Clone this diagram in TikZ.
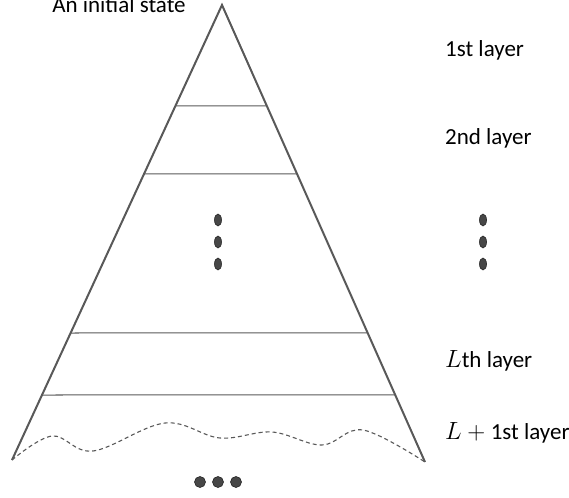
\documentclass[tikz,border=0pt]{standalone}
\usepackage{fontspec}
\setmainfont{Carlito}
\usetikzlibrary{calc,shapes.geometric}
\begin{document}
\begin{tikzpicture}[x=1pt,y=-1pt,
  side/.style={draw=black!65,line width=2pt,line join=miter},
  layerline/.style={draw=black!65,line width=1pt},
  wave/.style={draw=black!65,line width=1.1pt,dash pattern=on 4pt off 3pt},
  vdot/.style={ellipse,fill=black!72,draw=black!85,line width=0.6pt,minimum width=7pt,minimum height=12pt,inner sep=0pt},
  hdot/.style={circle,fill=black!72,draw=black!85,line width=0.6pt,minimum size=11pt,inner sep=0pt},
  lab/.style={anchor=base west,inner sep=0pt,font=\fontsize{23}{27}\selectfont},
]
\useasboundingbox (0,0) rectangle (569,497);
\coordinate (apex) at (222,5);
\coordinate (bl) at (12,460);
\coordinate (br) at (425,462);
\draw[side] (bl) -- (apex) -- (br);
% layer lines
\foreach \y [count=\i] in {106,174,333,395} {
  \coordinate (l\i) at ($(apex)!{(\y-5)/455}!(bl)$);
  \coordinate (r\i) at ($(apex)!{(\y-5)/457}!(br)$);
  \draw[layerline] (l\i) -- (r\i);
}
% wave
\draw[wave] plot[smooth,tension=0.6] coordinates {(12,460) (52,436) (93,451) (165,423) (220,438) (272,432) (322,445) (363,430) (425,462)};
% dots
\node[vdot] (d1) at (218,220) {};
\node[vdot] (d2) at (218,242) {};
\node[vdot] (d3) at (218,264) {};
\node[vdot] (e1) at (483,220) {};
\node[vdot] (e2) at (483,242) {};
\node[vdot] (e3) at (483,264) {};
\node[hdot] (h1) at (200,482) {};
\node[hdot] (h2) at (218,482) {};
\node[hdot] (h3) at (236,482) {};
% labels
\node[anchor=base,inner sep=0pt,font=\fontsize{23}{27}\selectfont] (init) at (119,13) {An initial state};
\node[lab] (t1) at (445,57) {1st layer};
\node[lab] (t2) at (445,144) {2nd layer};
\node[lab] (t3) at (445,367) {$L$th layer};
\node[lab] (t4) at (445,439) {$L+{}$1st layer};
\end{tikzpicture}
\end{document}
